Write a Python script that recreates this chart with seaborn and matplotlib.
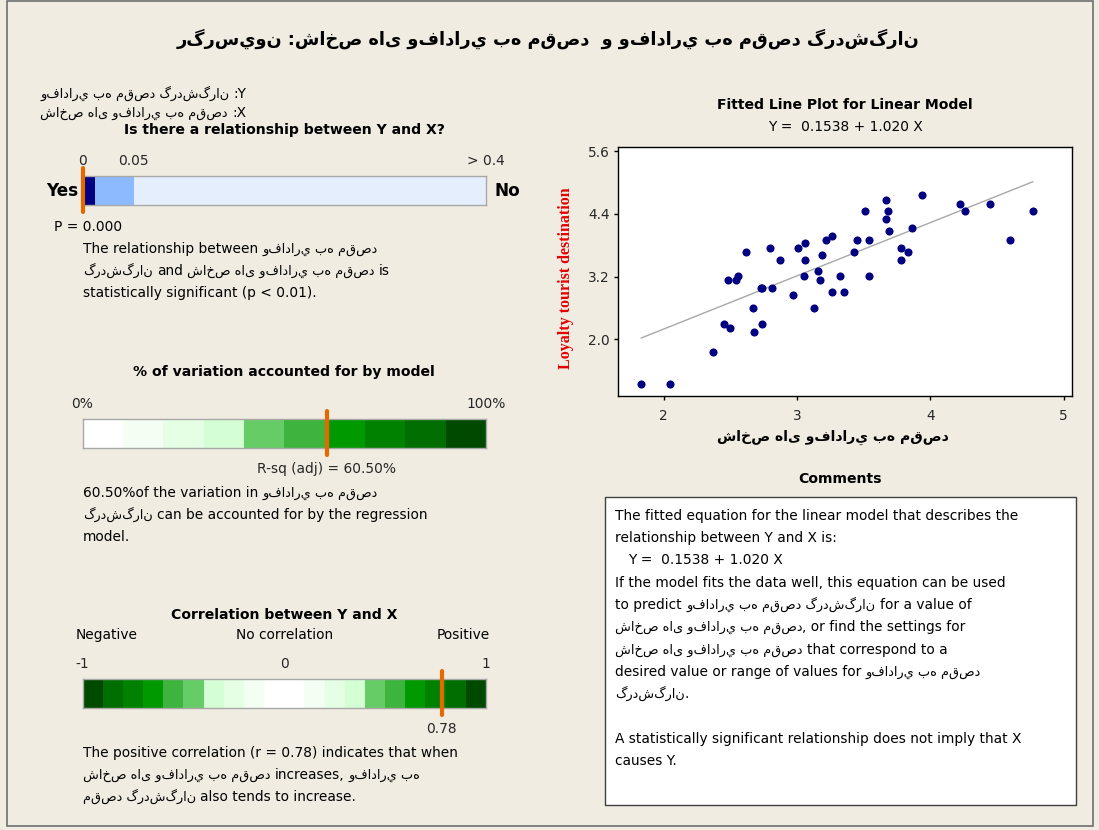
import re
import numpy as np
import matplotlib
matplotlib.use("Agg")
import matplotlib.pyplot as plt
from matplotlib.patches import Rectangle
import seaborn as sns

# ------------------------------------------------------------------ data
x_index = [1.83, 2.05, 2.37, 2.45, 2.50, 2.67, 2.68, 2.74, 2.48, 2.54,
           2.56, 2.62, 2.73, 2.74, 2.81, 2.80, 2.87, 2.97, 3.01, 3.06,
           3.06, 3.05, 3.13, 3.16, 3.17, 3.19, 3.22, 3.26, 3.26, 3.32,
           3.35, 3.43, 3.45, 3.51, 3.54, 3.54, 3.67, 3.68, 3.67, 3.69,
           3.78, 3.83, 3.78, 3.86, 3.94, 4.22, 4.26, 4.45, 4.60, 4.77]
y_loyalty = [1.14, 1.14, 1.76, 2.29, 2.22, 2.60, 2.14, 2.29, 3.13, 3.13,
             3.21, 3.68, 2.98, 2.98, 2.98, 3.75, 3.52, 2.84, 3.75, 3.84,
             3.52, 3.21, 2.60, 3.31, 3.13, 3.61, 3.90, 3.98, 2.90, 3.21,
             2.90, 3.68, 3.90, 4.45, 3.90, 3.21, 4.67, 4.45, 4.30, 4.08,
             3.75, 3.68, 3.52, 4.14, 4.76, 4.60, 4.45, 4.60, 3.90, 4.45]

INTERCEPT = 0.1538
SLOPE = 1.020
P_VALUE = 0.000
R_SQ_ADJ = 60.50
CORR_R = 0.78

y_ticks = [2.0, 3.2, 4.4, 5.6]
x_ticks = [2, 3, 4, 5]

# p-value bar: thresholds and colours
p_edges = [0.0, 0.01, 0.05, 0.4]
p_colors = ["#000080", "#8DBAFF", "#E4EEFC"]
p_tick_vals = [0.0, 0.05, 0.4]
p_tick_labels = ["0", "0.05", "> 0.4"]

# R-sq bar: 10% bands
rsq_edges = [0, 10, 20, 30, 40, 50, 60, 70, 80, 90, 100]
rsq_colors = ["#FFFFFF", "#F2FFF2", "#E4FFE4", "#D4FFD4", "#66CC66",
              "#3DB43D", "#009900", "#008200", "#006E00", "#004A00"]

# correlation bar: bands from -1 to 1
corr_edges = [-1.0, -0.9, -0.8, -0.7, -0.6, -0.5, -0.4, -0.3, -0.2, -0.1,
              0.1, 0.2, 0.3, 0.4, 0.5, 0.6, 0.7, 0.8, 0.9, 1.0]
corr_colors = ["#004A00", "#006E00", "#008200", "#009900", "#3DB43D",
               "#66CC66", "#D4FFD4", "#E4FFE4", "#F2FFF2", "#FFFFFF",
               "#F2FFF2", "#E4FFE4", "#D4FFD4", "#66CC66", "#3DB43D",
               "#009900", "#008200", "#006E00", "#004A00"]

Y_NAME = "وفادار\u064a به مقصد گردشگران"
X_NAME = "شاخص ها\u06cc وفادار\u064a به مقصد"
Y_WORDS = Y_NAME.split()
TITLE = f"رگرس\u064aون :{X_NAME}  و {Y_NAME}"

# Persian runs are drawn as their own text objects so that the line keeps a
# left-to-right order of runs while each run is laid out right-to-left.
RTL_RUN = re.compile(r"[\u0600-\u06ff]+(?:[ :]+[\u0600-\u06ff]+)*")


def segments(line):
    out, pos = [], 0
    for m in RTL_RUN.finditer(line):
        if m.start() > pos:
            out.append((line[pos:m.start()], False))
        out.append((m.group(0), True))
        pos = m.end()
    if pos < len(line):
        out.append((line[pos:], False))
    return out


# ------------------------------------------------------------------ style
BG = "#F0ECE2"
ORANGE = "#E86800"
NAVY = "#000080"
sns.set_style("white")
plt.rcParams["font.family"] = ["DejaVu Sans"]
plt.rcParams["axes.unicode_minus"] = False

W, H = 1099, 830
fig = plt.figure(figsize=(W / 100, H / 100), dpi=100, facecolor=BG)
bg = fig.add_axes([0, 0, 1, 1])
bg.set_xlim(0, W)
bg.set_ylim(H, 0)
bg.axis("off")
bg.set_facecolor(BG)
RENDERER = fig.canvas.get_renderer()

LAT = 9.9       # body text
AR = 9.3        # Persian words inside body text
HEAD = 10.1     # bold block headings


def box(x0, y0, x1, y1):
    return [x0 / W, 1 - y1 / H, (x1 - x0) / W, (y1 - y0) / H]


def _width(s, size, weight):
    t = bg.text(0, 0, s, fontsize=size, fontweight=weight)
    w = t.get_window_extent(renderer=RENDERER).width
    t.remove()
    return w


def _space(size, weight):
    return _width("n n", size, weight) - _width("nn", size, weight)


def rich(x, y, line, size=LAT, ar_size=AR, weight="normal", ha="left",
         color="black"):
    """Draw a line mixing Latin and Persian runs on one baseline."""
    parts = []
    for s, rtl in segments(line):
        sz = ar_size if rtl else size
        sw = _space(sz, weight)
        lead = (len(s) - len(s.lstrip(" "))) * sw
        trail = (len(s) - len(s.rstrip(" "))) * sw
        core = s.strip(" ")
        w = _width(core, sz, weight) if core else 0.0
        parts.append((lead, core, sz, w, trail))
    total = sum(p[0] + p[3] + p[4] for p in parts)
    cur = x - total / 2 if ha == "center" else x - total if ha == "right" else x
    for lead, core, sz, w, trail in parts:
        cur += lead
        if core:
            bg.text(cur, y, core, fontsize=sz, fontweight=weight, ha="left",
                    va="baseline", color=color)
        cur += w + trail


def lines(x, y0, step, rows, **kw):
    for i, r in enumerate(rows):
        if r:
            rich(x, y0 + i * step, r, **kw)


# outer frame
bg.add_patch(Rectangle((7, 1), 1086, 825, fill=False, edgecolor="#6E6E6E", lw=1.2))

# title
rich(548, 45, TITLE, size=12.8, ar_size=12.8, weight="bold", ha="center")

# variable names
rich(40, 98, f"{Y_NAME} :Y")
rich(40, 117, f"{X_NAME} :X")


def seg_bar(rect, edges, colors, xlim, marker, scale=None):
    ax = fig.add_axes(rect)
    if scale is not None:
        ax.set_xscale("function", functions=scale)
    ax.barh(0, np.diff(edges), left=edges[:-1], height=1.0, color=colors,
            edgecolor="none", linewidth=0)
    ax.set_xlim(*xlim)
    ax.set_ylim(-0.5, 0.5)
    ax.set_xticks([])
    ax.set_yticks([])
    for sp in ax.spines.values():
        sp.set_visible(True)
        sp.set_color("#A8A8A8")
        sp.set_linewidth(1.0)
    ax.axvline(marker, ymin=-0.25, ymax=1.27, clip_on=False, color=ORANGE,
               lw=3.0, zorder=6)
    return ax


def above(ax, val, label, dy_px=11):
    ax.annotate(label, xy=(val, 1), xycoords=("data", "axes fraction"),
                xytext=(0, dy_px * 0.72), textcoords="offset points",
                ha="center", va="baseline", fontsize=LAT)


def below(ax, val, label, dy_px=25):
    ax.annotate(label, xy=(val, 0), xycoords=("data", "axes fraction"),
                xytext=(0, -dy_px * 0.72), textcoords="offset points",
                ha="center", va="baseline", fontsize=LAT)


# ---------------- relationship (p-value) block
rich(284, 134, "Is there a relationship between Y and X?", size=HEAD,
     weight="bold", ha="center")
p_track = [0.0, 0.03, 0.127, 1.0]
p_fwd = lambda v: np.interp(v, p_edges, p_track)
p_inv = lambda v: np.interp(v, p_track, p_edges)
ax_p = seg_bar(box(82.5, 176, 486, 205), p_edges, p_colors, (0, 0.4), P_VALUE,
               scale=(p_fwd, p_inv))
for v, lab in zip(p_tick_vals, p_tick_labels):
    above(ax_p, v, lab)
rich(78, 196, "Yes", size=12.2, weight="bold", ha="right")
rich(494, 196, "No", size=12.2, weight="bold")
rich(54, 231, f"P = {P_VALUE:.3f}")
lines(83, 253, 22, [
    f"The relationship between {' '.join(Y_WORDS[:3])}",
    f"{Y_WORDS[3]} and {X_NAME} is",
    "statistically significant (p < 0.01).",
])

# ---------------- R-sq block
rich(284, 376, "% of variation accounted for by model", size=HEAD,
     weight="bold", ha="center")
ax_r = seg_bar(box(82.5, 419, 486, 448), rsq_edges, rsq_colors, (0, 100), R_SQ_ADJ)
above(ax_r, 0, "0%")
above(ax_r, 100, "100%")
below(ax_r, R_SQ_ADJ, f"R-sq (adj) = {R_SQ_ADJ:.2f}%")
lines(83, 497, 22, [
    f"{R_SQ_ADJ:.2f}%of the variation in {' '.join(Y_WORDS[:3])}",
    f"{Y_WORDS[3]} can be accounted for by the regression",
    "model.",
])

# ---------------- correlation block
rich(284, 619, "Correlation between Y and X", size=HEAD, weight="bold",
     ha="center")
rich(76, 639, "Negative")
rich(285, 639, "No correlation", ha="center")
rich(490, 639, "Positive", ha="right")
ax_c = seg_bar(box(82.5, 679, 486, 708), corr_edges, corr_colors, (-1, 1), CORR_R)
for v, lab in [(-1, "-1"), (0, "0"), (1, "1")]:
    above(ax_c, v, lab)
below(ax_c, CORR_R, f"{CORR_R:.2f}")
lines(83, 757, 22, [
    f"The positive correlation (r = {CORR_R:.2f}) indicates that when",
    f"{X_NAME} increases, {' '.join(Y_WORDS[:2])}",
    f"{' '.join(Y_WORDS[2:])} also tends to increase.",
])

# ---------------- fitted line plot
rich(845, 109, "Fitted Line Plot for Linear Model", size=HEAD, weight="bold",
     ha="center")
rich(845, 131, f"Y =  {INTERCEPT:.4f} + {SLOPE:.3f} X", ha="center")

ax = fig.add_axes(box(618, 147, 1072, 396))
ax.set_facecolor("white")
fit_x = np.array([min(x_index), max(x_index)])
fit_y = INTERCEPT + SLOPE * fit_x
sns.lineplot(x=fit_x, y=fit_y, color="#A8A8A8", linewidth=1.0, ax=ax, zorder=2)
sns.scatterplot(x=x_index, y=y_loyalty, color=NAVY, s=34, linewidth=0, ax=ax,
                zorder=3)
ax.set_xlim(1.657, 5.063)
ax.set_ylim(0.91, 5.684)
ax.set_xticks(x_ticks)
ax.set_xticklabels([str(t) for t in x_ticks])
ax.set_yticks(y_ticks)
ax.set_yticklabels([f"{t:.1f}" for t in y_ticks])
ax.tick_params(direction="out", length=3, width=1, color="black",
               labelsize=9.8, pad=3, left=True, bottom=True)
ax.tick_params(axis="x", pad=6)
for sp in ax.spines.values():
    sp.set_color("black")
    sp.set_linewidth(1.0)
ax.set_xlabel("")
ax.set_ylabel("")
rich(833, 441, X_NAME, size=10.1, ar_size=10.1, weight="bold", ha="center")
bg.text(566, 278, "Loyalty tourist destination", rotation=90, color="#E50000",
        family="Liberation Serif", fontweight="bold", fontsize=11.5,
        ha="center", va="center")

# ---------------- comments
rich(840, 483, "Comments", size=HEAD, weight="bold", ha="center")
bg.add_patch(Rectangle((605, 497), 471, 308, facecolor="white",
                       edgecolor="#404040", lw=1.0))
comment_rows = [
    "The fitted equation for the linear model that describes the",
    "relationship between Y and X is:",
    None,
    "If the model fits the data well, this equation can be used",
    f"to predict {Y_NAME} for a value of",
    f"{X_NAME}, or find the settings for",
    f"{X_NAME} that correspond to a",
    f"desired value or range of values for {' '.join(Y_WORDS[:3])}",
    f"{Y_WORDS[3]}.",
    None,
    "A statistically significant relationship does not imply that X",
    "causes Y.",
]
lines(615, 519.5, 22.35, comment_rows)
rich(628, 519.5 + 2 * 22.35, f"Y =  {INTERCEPT:.4f} + {SLOPE:.3f} X")

fig.savefig("out.png", dpi=100, facecolor=BG)
